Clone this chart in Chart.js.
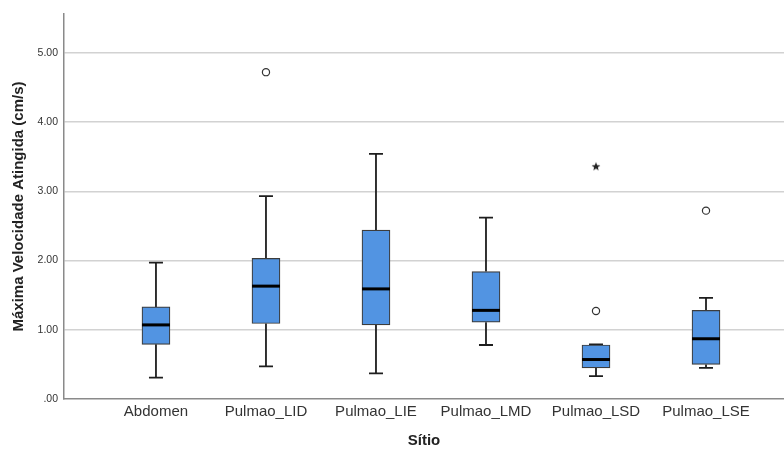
<!DOCTYPE html>
<html>
<head>
<meta charset="utf-8">
<script src="https://cdn.jsdelivr.net/npm/chart.js@4.4.0/dist/chart.umd.min.js"></script>
<style>
  html, body { margin: 0; padding: 0; background: #fff; }
  #wrap { width: 784px; height: 450px; }
</style>
</head>
<body>
<div id="wrap"><canvas id="chart"></canvas></div>
<script>
// data
const categories = ["Abdomen", "Pulmao_LID", "Pulmao_LIE", "Pulmao_LMD", "Pulmao_LSD", "Pulmao_LSE"];
const whiskerLow = [0.31, 0.47, 0.37, 0.78, 0.33, 0.45];
const q1 = [0.79, 1.09, 1.07, 1.11, 0.45, 0.50];
const median = [1.07, 1.63, 1.59, 1.28, 0.57, 0.87];
const q3 = [1.33, 2.03, 2.44, 1.84, 0.78, 1.28];
const whiskerHigh = [1.97, 2.93, 3.54, 2.62, 0.79, 1.46];
// outliers (circles) and extremes (stars), by category index
const outlierCats = [1, 4, 5];
const outlierValues = [4.72, 1.27, 2.72];
const extremeCats = [4];
const extremeValues = [3.36];
const yTicks = [0, 1, 2, 3, 4, 5];

const FONT = "'Liberation Sans', Arial, sans-serif";
const BOX_W = 28;

// small filled star for extreme values
const star = document.createElement("canvas");
star.width = 10; star.height = 10;
(function () {
  const c = star.getContext("2d");
  c.fillStyle = "#222";
  c.beginPath();
  for (let i = 0; i < 10; i++) {
    const r = i % 2 === 0 ? 4.6 : 1.9;
    const a = -Math.PI / 2 + i * Math.PI / 5;
    const px = 5 + r * Math.cos(a), py = 5.3 + r * Math.sin(a);
    if (i === 0) c.moveTo(px, py); else c.lineTo(px, py);
  }
  c.closePath();
  c.fill();
})();

// whiskers, caps and medians drawn through the chart's scales
const boxParts = {
  id: "boxParts",
  beforeDatasetsDraw(chart) {
    const { ctx, scales: { x, y } } = chart;
    ctx.save();
    ctx.strokeStyle = "#1e1e1e";
    ctx.lineWidth = 1.8;
    categories.forEach((c, i) => {
      const cx = x.getPixelForValue(i + 1);
      const lo = y.getPixelForValue(whiskerLow[i]);
      const hi = y.getPixelForValue(whiskerHigh[i]);
      ctx.beginPath();
      ctx.moveTo(cx, y.getPixelForValue(q1[i])); ctx.lineTo(cx, lo);
      ctx.moveTo(cx, y.getPixelForValue(q3[i])); ctx.lineTo(cx, hi);
      ctx.moveTo(cx - BOX_W / 4, lo); ctx.lineTo(cx + BOX_W / 4, lo);
      ctx.moveTo(cx - BOX_W / 4, hi); ctx.lineTo(cx + BOX_W / 4, hi);
      ctx.stroke();
    });
    ctx.restore();
  },
  afterDatasetsDraw(chart) {
    const { ctx, scales: { x, y } } = chart;
    ctx.save();
    ctx.strokeStyle = "#000";
    ctx.lineWidth = 3;
    categories.forEach((c, i) => {
      const cx = x.getPixelForValue(i + 1);
      const m = y.getPixelForValue(median[i]);
      ctx.beginPath();
      ctx.moveTo(cx - BOX_W / 2, m); ctx.lineTo(cx + BOX_W / 2, m);
      ctx.stroke();
    });
    ctx.restore();
  }
};

new Chart(document.getElementById("chart"), {
  type: "bar",
  data: {
    datasets: [
      {
        type: "bar",
        data: categories.map((c, i) => ({ x: i + 1, y: [q1[i], q3[i]] })),
        backgroundColor: "#5294e2",
        borderColor: "#3c3c3c",
        borderWidth: 1.2,
        borderSkipped: false,
        barThickness: BOX_W,
        grouped: false,
        order: 2
      },
      {
        type: "scatter",
        data: outlierCats.map((c, i) => ({ x: c + 1, y: outlierValues[i] })),
        pointStyle: "circle",
        pointRadius: 3.6,
        pointBorderWidth: 1.2,
        pointBorderColor: "#333",
        pointBackgroundColor: "#fff",
        order: 1
      },
      {
        type: "scatter",
        data: extremeCats.map((c, i) => ({ x: c + 1, y: extremeValues[i] })),
        pointStyle: star,
        order: 1
      }
    ]
  },
  options: {
    responsive: true,
    maintainAspectRatio: false,
    animation: false,
    layout: { padding: { top: 14, right: 0, left: 0, bottom: 0 }, autoPadding: false },
    plugins: { legend: { display: false }, tooltip: { enabled: false } },
    scales: {
      x: {
        type: "linear",
        offset: false,
        min: 0.164,
        max: 6.709,
        afterBuildTicks: (s) => { s.ticks = categories.map((c, i) => ({ value: i + 1 })); },
        afterFit: (s) => { s.height = 51; s.paddingLeft = 0; s.paddingRight = 0; },
        grid: { display: false, drawTicks: false },
        border: { display: true, color: "#8a8a8a", width: 1.5 },
        ticks: {
          padding: 4,
          maxRotation: 0,
          autoSkip: false,
          color: "#333",
          font: { family: FONT, size: 15 },
          callback: (v) => categories[Math.round(v) - 1]
        },
        title: {
          display: true,
          text: "Sítio",
          color: "#222",
          font: { family: FONT, size: 15, weight: "bold" },
          padding: { top: 0, bottom: 0 }
        }
      },
      y: {
        min: 0,
        max: 5.56,
        afterBuildTicks: (s) => { s.ticks = yTicks.map((v) => ({ value: v })); },
        afterFit: (s) => { s.width = 64; },
        grid: {
          color: (c) => (c.tick && c.tick.value === 0 ? "rgba(0,0,0,0)" : "#d2d2d2"),
          lineWidth: 1.5,
          drawTicks: false
        },
        border: { display: true, color: "#8a8a8a", width: 1.5 },
        ticks: {
          padding: 6,
          color: "#333",
          font: { family: FONT, size: 10.5 },
          callback: (v) => v.toFixed(2).replace(/^0\./, ".")
        },
        title: {
          display: true,
          text: "Máxima Velocidade Atingida (cm/s)",
          color: "#222",
          font: { family: FONT, size: 15, weight: "bold" },
          padding: { top: 10, bottom: 0 }
        }
      }
    }
  },
  plugins: [boxParts]
});
</script>
</body>
</html>
